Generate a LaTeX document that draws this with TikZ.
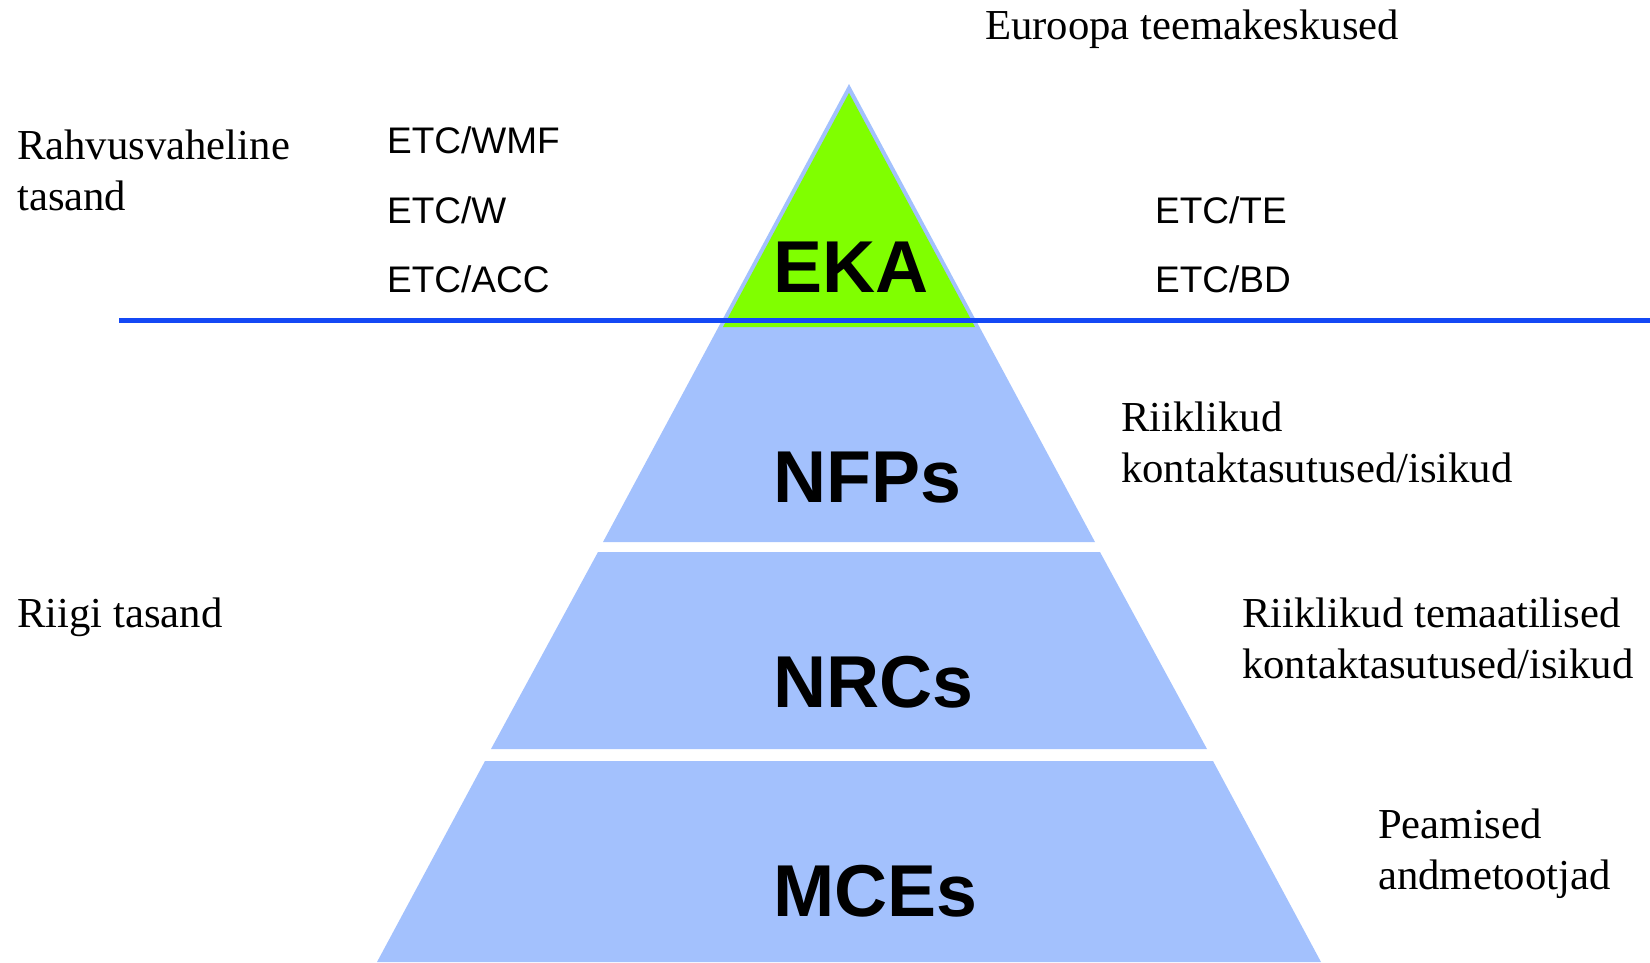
\documentclass[tikz,border=0pt]{standalone}
\usepackage{fontspec}
\setmainfont{Liberation Serif}
\newfontfamily\arialfont{Liberation Sans}
\usetikzlibrary{positioning}
\definecolor{layerblue}{RGB}{163,193,253}
\definecolor{ekagreen}{RGB}{128,255,0}
\definecolor{lineblue}{RGB}{20,72,245}
\tikzset{
  layer/.style={fill=layerblue},
  tiername/.style={anchor=base west,inner sep=0pt,font=\arialfont\bfseries\fontsize{73.5}{80}\selectfont},
  etcname/.style={anchor=base west,inner sep=0pt,font=\arialfont\fontsize{37}{42}\selectfont},
  levelnote/.style={anchor=base west,inner sep=0pt,align=left,font=\fontsize{42.7}{50.5}\selectfont}
}

\begin{document}
\begin{tikzpicture}[x=1pt,y=-1pt]
  \useasboundingbox (0,0) rectangle (1650,962);
  % pyramid layers
  \fill[layer] (849,84) -- (1095,542) -- (603,542) -- cycle;
  \fill[layer] (598,552) -- (1100,552) -- (1207,749) -- (491,749) -- cycle;
  \fill[layer] (485,761) -- (1213,761) -- (1321,962) -- (377,962) -- cycle;
  \fill[ekagreen] (849,93) -- (975,327) -- (723,327) -- cycle;
  % border between the levels
  \coordinate (lineL) at (119,320);
  \coordinate (lineR) at (1650,320);
  \draw[lineblue,line width=5pt] (lineL) -- (lineR);
  % names in the pyramid
  \node[tiername] (eka) at (773,292) {EKA};
  \node[tiername] (nfps) at (773,502) {NFPs};
  \node[tiername] (nrcs) at (773,707) {NRCs};
  \node[tiername] (mces) at (773,916) {MCEs};
  % topic centres
  \node[etcname] (wmf) at (387,153) {ETC/WMF};
  \node[etcname] (w) at (387,223) {ETC/W};
  \node[etcname] (acc) at (387,292) {ETC/ACC};
  \node[etcname] (te) at (1155,223) {ETC/TE};
  \node[etcname] (bd) at (1155,292) {ETC/BD};
  % explanations (base = last line)
  \node[levelnote] (euroopa) at (985,39) {Euroopa teemakeskused};
  \node[levelnote] (rahvus) at (17,210) {Rahvusvaheline\\tasand};
  \node[levelnote] (riigi) at (17,627) {Riigi tasand};
  \node[levelnote] (nfpnote) at (1121,482) {Riiklikud\\kontaktasutused/isikud};
  \node[levelnote] (nrcnote) at (1242,678) {Riiklikud temaatilised\\kontaktasutused/isikud};
  \node[levelnote] (mcenote) at (1378,889) {Peamised\\andmetootjad};
\end{tikzpicture}
\end{document}
